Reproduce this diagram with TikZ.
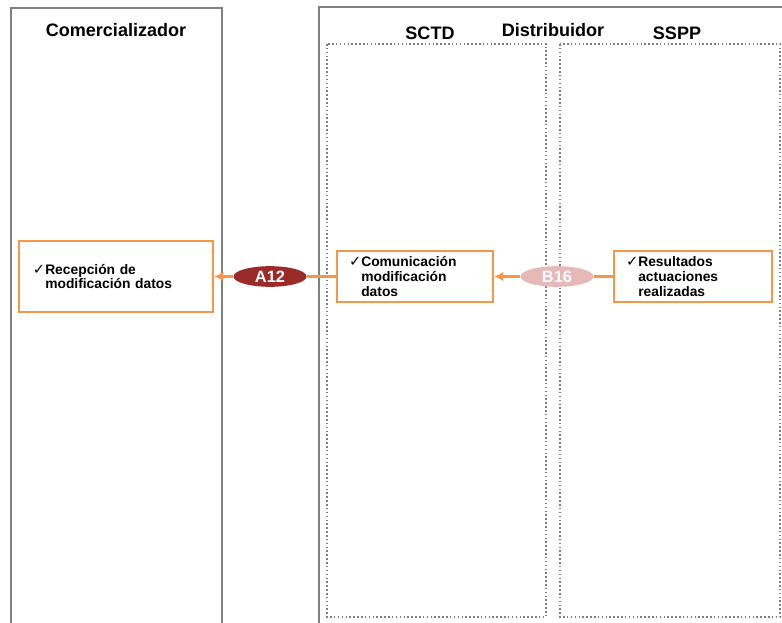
\documentclass[tikz,border=0pt]{standalone}
\usepackage{fontspec}
\setmainfont{Liberation Sans}
\newfontfamily\symfont{DejaVu Sans}
\usepackage{tikz}
\usetikzlibrary{shapes.geometric, arrows.meta}
\definecolor{LaneGray}{RGB}{128,128,128}
\definecolor{FlowOrange}{RGB}{247,150,70}
\definecolor{TagRed}{RGB}{155,43,40}
\definecolor{TagPink}{RGB}{230,185,184}
\newcommand{\chk}{{\symfont\fontsize{12.5}{10}\selectfont ✓}}

\begin{document}
\begin{tikzpicture}[x=0.03cm, y=-0.03cm, >={Latex[length=8pt, width=8pt]},
    lane/.style={draw=LaneGray, line width=2.4pt},
    sublane/.style={draw=LaneGray, line width=1.3pt, dotted},
    title/.style={font=\fontsize{15.4}{17}\selectfont\bfseries},
    actbox/.style={draw=FlowOrange, line width=1.6pt, fill=white, align=left,
      inner ysep=2pt, font=\fontsize{11.8}{12.8}\selectfont\bfseries},
    tag/.style={ellipse, minimum width=2.19cm, minimum height=0.62cm, inner sep=0pt,
      text=white, font=\fontsize{14}{16}\selectfont\bfseries},
    flow/.style={draw=FlowOrange, line width=2pt, ->}]
  \useasboundingbox (0,0) rectangle (782,623);
  \clip (0,0) rectangle (782,623);
  % lanes
  \draw[lane] (11,650) -- (11,8) -- (222,8) -- (222,650);
  \draw[lane] (319,650) -- (319,7) -- (800,7);
  \draw[sublane] (327,44) rectangle (546,617);
  \draw[sublane] (560,44) rectangle (780,617);
  \node[title] (comer) at (116,30) {Comercializador};
  \node[title] (distr) at (553,30) {Distribuidor};
  \node[title] (sctd) at (430,33) {SCTD};
  \node[title] (sspp) at (677,33) {SSPP};
  % activities
  \node[actbox, text width=4.98cm, inner xsep=0.42cm, minimum height=2.13cm] (rec) at (116,276.5)
    {\chk Recepción de\\\phantom{\chk}modificación datos};
  \node[actbox, text width=3.96cm, inner xsep=0.36cm, minimum height=1.53cm] (com) at (415,276.5)
    {\chk Comunicación\\\phantom{\chk}modificación\\\phantom{\chk}datos};
  \node[actbox, text width=4.02cm, inner xsep=0.36cm, minimum height=1.53cm] (res) at (693,276.5)
    {\chk Resultados\\\phantom{\chk}actuaciones\\\phantom{\chk}realizadas};
  % messages
  \node[tag, fill=TagRed] (a12) at (270,276.5) {A12};
  \node[tag, fill=TagPink] (b16) at (557,276.5) {B16};
  \draw[flow] (com.west) -- (a12.east) (a12.west) -- (rec.east);
  \draw[flow] (res.west) -- (b16.east) (b16.west) -- (com.east);
\end{tikzpicture}
\end{document}
